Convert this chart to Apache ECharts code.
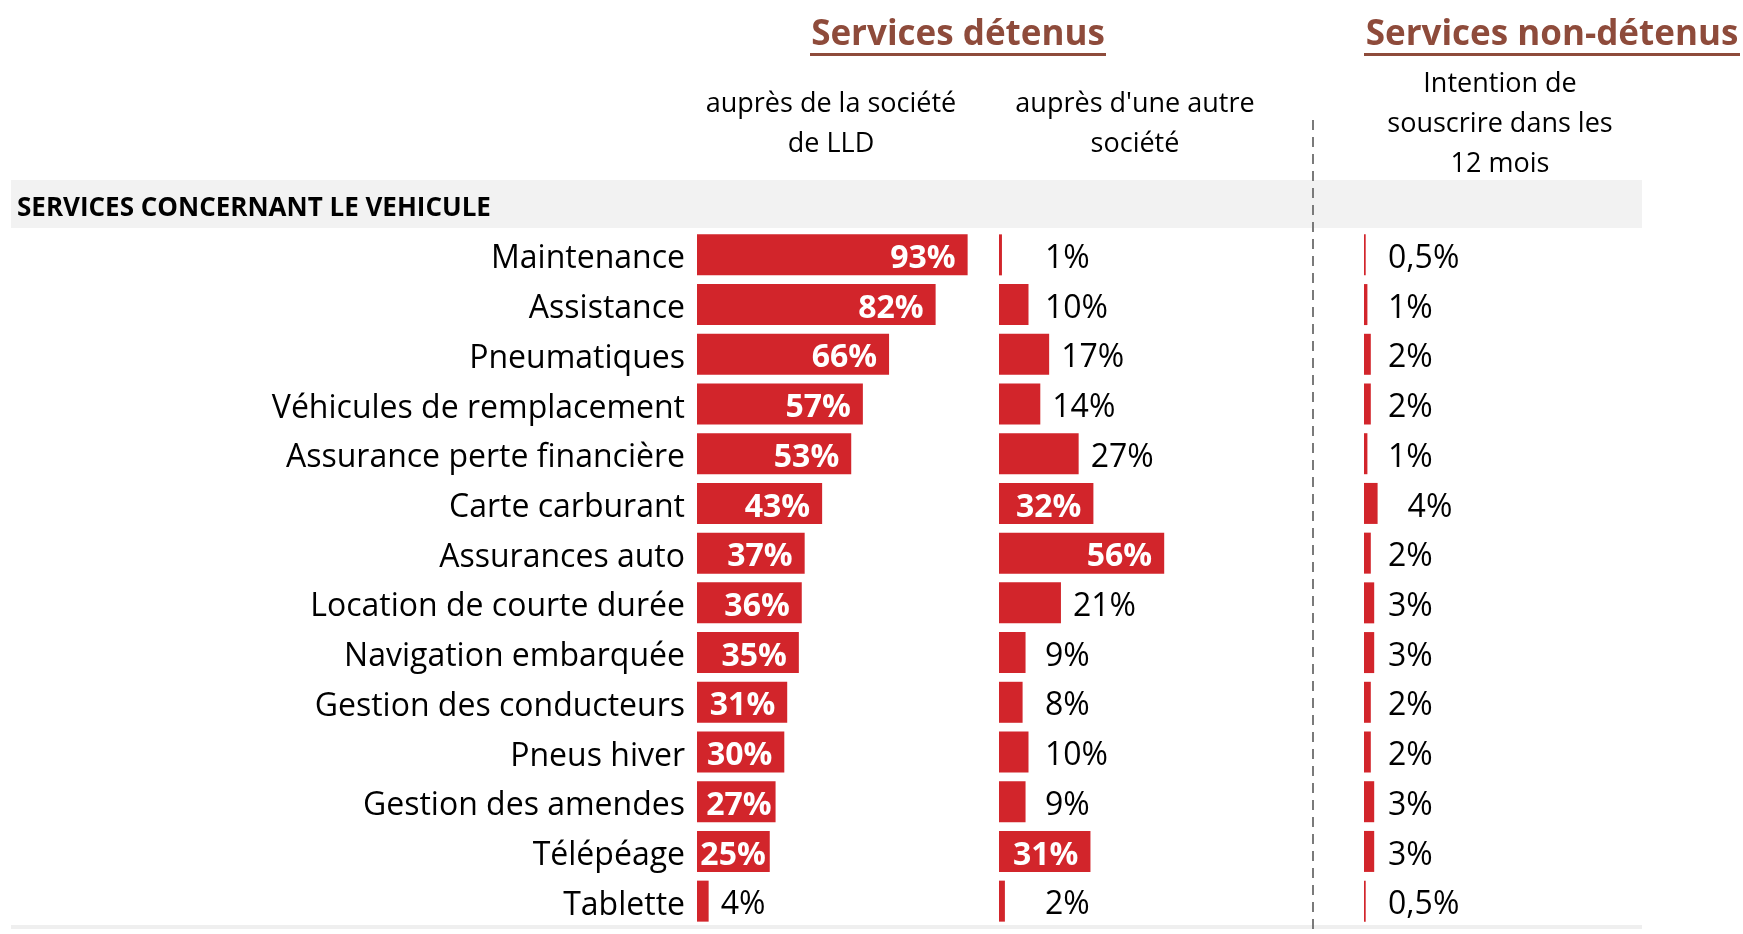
<!DOCTYPE html>
<html>
<head>
<meta charset="utf-8">
<script src="https://cdn.jsdelivr.net/npm/echarts@6/dist/echarts.min.js"></script>
<style>
  html, body { margin: 0; padding: 0; background: #fff; }
  #chart { width: 1743px; height: 934px; }
</style>
</head>
<body>
<div id="chart"></div>
<script>
// données
const categories = [
  'Maintenance', 'Assistance', 'Pneumatiques', 'Véhicules de remplacement',
  'Assurance perte financière', 'Carte carburant', 'Assurances auto',
  'Location de courte durée', 'Navigation embarquée', 'Gestion des conducteurs',
  'Pneus hiver', 'Gestion des amendes', 'Télépéage', 'Tablette'
]
const societeLLD = [93, 82, 66, 57, 53, 43, 37, 36, 35, 31, 30, 27, 25, 4]
const autreSociete = [1, 10, 17, 14, 27, 32, 56, 21, 9, 8, 10, 9, 31, 2]
const intention = [0.5, 1, 2, 2, 1, 4, 2, 3, 3, 2, 2, 3, 3, 0.5]

const FONT = 'Open Sans'
const RED = '#d2252b'
const BROWN = '#8e4b3b'

const fmt = p => String(p.value).replace('.', ',') + '%'

const insideLabel = {
  show: true, position: 'insideRight', distance: 12, offset: [0, 4],
  color: '#fff', fontWeight: 'bold', fontSize: 32, fontFamily: FONT, formatter: fmt
}
const outsideLabel = {
  show: true, position: 'right', distance: 12, offset: [0, 4],
  color: '#000', fontSize: 32, fontFamily: FONT, formatter: fmt
}

// étiquettes : dedans si la barre est assez longue
function withLabels(values, minInside, farLimit) {
  return values.map(v => {
    let label = outsideLabel
    if (v >= minInside) {
      label = v < 28 ? Object.assign({}, insideLabel, { distance: 4 }) : insideLabel
    } else if (farLimit && v < farLimit) {
      label = Object.assign({}, outsideLabel, { position: 'insideLeft', distance: 46 })
    }
    return { value: v, label: label }
  })
}

// colonne intention : étiquettes alignées à gauche
function intentionLabels(values) {
  return values.map(v => ({
    value: v,
    label: v >= 4
      ? Object.assign({}, outsideLabel, { distance: 30 })
      : Object.assign({}, outsideLabel, { position: 'insideLeft', distance: 24 })
  }))
}

const chart = echarts.init(document.getElementById('chart'))

const gridTop = 230
const gridBottom = 8
const grids = [
  { left: 697, width: 291, top: gridTop, bottom: gridBottom },
  { left: 999, width: 295, top: gridTop, bottom: gridBottom },
  { left: 1364, width: 340, top: gridTop, bottom: gridBottom }
]

const xAxes = grids.map((g, i) => ({
  type: 'value', gridIndex: i, min: 0, max: 100, show: false
}))
const yAxes = grids.map((g, i) => ({
  type: 'category', gridIndex: i, data: categories, inverse: true,
  axisLine: { show: false }, axisTick: { show: false }, splitLine: { show: false },
  axisLabel: {
    show: i === 0, margin: 12,
    formatter: v => '{c|' + v + '}',
    rich: { c: { color: '#000', fontSize: 32, fontFamily: FONT, padding: [9, 0, 0, 0] } }
  }
}))

const subHeader = {
  fontSize: 27, fontFamily: FONT, fill: '#000', textAlign: 'center', lineHeight: 40
}

chart.setOption({
  animation: false,
  backgroundColor: '#fff',
  grid: grids,
  xAxis: xAxes,
  yAxis: yAxes,
  graphic: [
    // bandeau gris
    { type: 'rect', shape: { x: 11, y: 180, width: 1631, height: 48 }, style: { fill: '#f2f2f2' }, z: -10 },
    { type: 'rect', shape: { x: 11, y: 925, width: 1631, height: 4 }, style: { fill: '#efefef' }, z: -10 },
    { type: 'text', x: 17, y: 209, style: { text: 'SERVICES CONCERNANT LE VEHICULE', fontSize: 26, fontWeight: 'bold', fontFamily: FONT, fill: '#000', textVerticalAlign: 'middle' } },
    // ligne pointillée
    { type: 'line', shape: { x1: 1313, y1: 120, x2: 1313, y2: 934 }, style: { stroke: '#7a7a7a', lineWidth: 2, lineDash: [10, 7] } },
    // titres
    { type: 'text', x: 958, y: 35, style: { text: 'Services détenus', fontSize: 35, fontWeight: 'bold', fontFamily: FONT, fill: BROWN, textAlign: 'center', textVerticalAlign: 'middle' } },
    { type: 'rect', shape: { x: 810, y: 53, width: 296, height: 3 }, style: { fill: BROWN } },
    { type: 'text', x: 1552, y: 35, style: { text: 'Services non-détenus', fontSize: 35, fontWeight: 'bold', fontFamily: FONT, fill: BROWN, textAlign: 'center', textVerticalAlign: 'middle' } },
    { type: 'rect', shape: { x: 1364, y: 53, width: 376, height: 3 }, style: { fill: BROWN } },
    // sous-titres
    { type: 'text', x: 831, y: 84, style: Object.assign({ text: 'auprès de la société\nde LLD' }, subHeader) },
    { type: 'text', x: 1135, y: 84, style: Object.assign({ text: 'auprès d\'une autre\nsociété' }, subHeader) },
    { type: 'text', x: 1500, y: 64, style: Object.assign({ text: 'Intention de\nsouscrire dans les\n12 mois' }, subHeader) }
  ],
  series: [
    {
      name: 'auprès de la société de LLD', type: 'bar', xAxisIndex: 0, yAxisIndex: 0,
      barWidth: 41, itemStyle: { color: RED }, data: withLabels(societeLLD, 25)
    },
    {
      name: 'auprès d\'une autre société', type: 'bar', xAxisIndex: 1, yAxisIndex: 1,
      barWidth: 41, itemStyle: { color: RED }, data: withLabels(autreSociete, 30, 14)
    },
    {
      name: 'Intention de souscrire dans les 12 mois', type: 'bar', xAxisIndex: 2, yAxisIndex: 2,
      barWidth: 41, itemStyle: { color: RED }, data: intentionLabels(intention)
    }
  ]
})
</script>
</body>
</html>
